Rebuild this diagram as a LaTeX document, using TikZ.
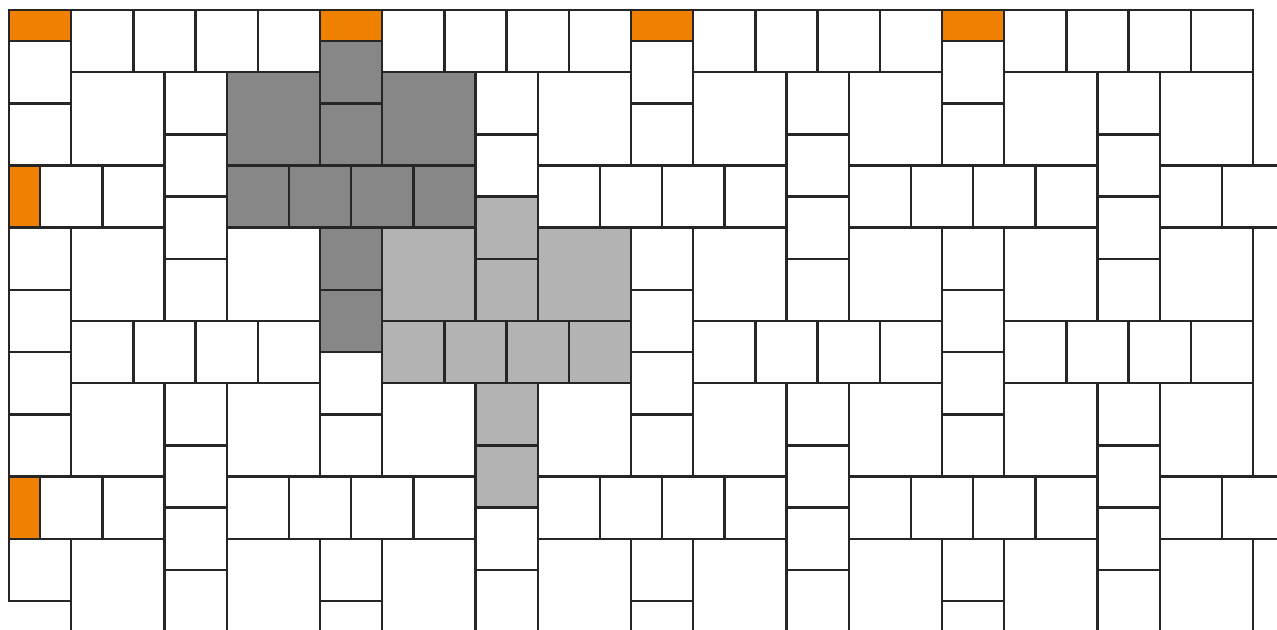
\documentclass[tikz,border=0pt]{standalone}
\definecolor{tileorange}{RGB}{240,128,0}
\definecolor{tiledark}{RGB}{135,135,135}
\definecolor{tilelight}{RGB}{179,179,179}
\definecolor{tileline}{RGB}{38,38,38}
\tikzset{
  tilebox/.style={draw=tileline, line width=1.1pt, fill=white},
  cutbox/.style={tilebox, fill=tileorange},
  darkbox/.style={tilebox, fill=tiledark},
  lightbox/.style={tilebox, fill=tilelight},
}
\begin{document}
\begin{tikzpicture}[x=0.5cm,y=-0.5cm]
\useasboundingbox (-0.2894,-0.3215) rectangle (40.772,19.904);
\begin{scope}
\clip (-0.2894,-0.3215) rectangle (40.772,19.904);
\foreach \ox/\oy in {1/-4,11/-4,21/-4,31/-4,41/-4,
  6/1,16/1,26/1,36/1,
  1/6,11/6,21/6,31/6,41/6,
  6/11,16/11,26/11,36/11,
  1/16,11/16,21/16,31/16,41/16,
  6/21,16/21,26/21,36/21}{
  \foreach \ax/\ay/\bx/\by in {-4/-1/-2/1,-2/-1/0/1,0/-1/2/1,2/-1/4/1,
     -1/-5/1/-3,-1/-3/1/-1,-1/1/1/3,-1/3/1/5,-4/-4/-1/-1,1/-4/4/-1}{
    \pgfmathtruncatemacro\xa{\ox+(\ax)}
    \pgfmathtruncatemacro\ya{\oy+(\ay)}
    \pgfmathtruncatemacro\xb{\ox+(\bx)}
    \pgfmathtruncatemacro\yb{\oy+(\by)}
    \pgfmathtruncatemacro\tvis{(\xb>0)&&(\yb>0)&&(\xa<40)&&(\ya<20)&&!((\xa==0)&&(\ya==19))}
    \pgfmathtruncatemacro\tcut{(\xa<0)||(\ya<0)}
    \pgfmathtruncatemacro\tshade{((\ox==11)&&(\oy==6))+2*((\ox==16)&&(\oy==11))}
    \pgfmathtruncatemacro\xc{max(\xa,0)}
    \pgfmathtruncatemacro\yc{max(\ya,0)}
    \ifnum\tvis=1
      \ifnum\tcut=1
        \draw[cutbox] (\xc,\yc) rectangle (\xb,\yb);
      \else
        \ifcase\tshade
          \draw[tilebox] (\xa,\ya) rectangle (\xb,\yb);
        \or
          \draw[darkbox] (\xa,\ya) rectangle (\xb,\yb);
        \or
          \draw[lightbox] (\xa,\ya) rectangle (\xb,\yb);
        \fi
      \fi
    \fi
  }
}
\end{scope}
\end{tikzpicture}
\end{document}
